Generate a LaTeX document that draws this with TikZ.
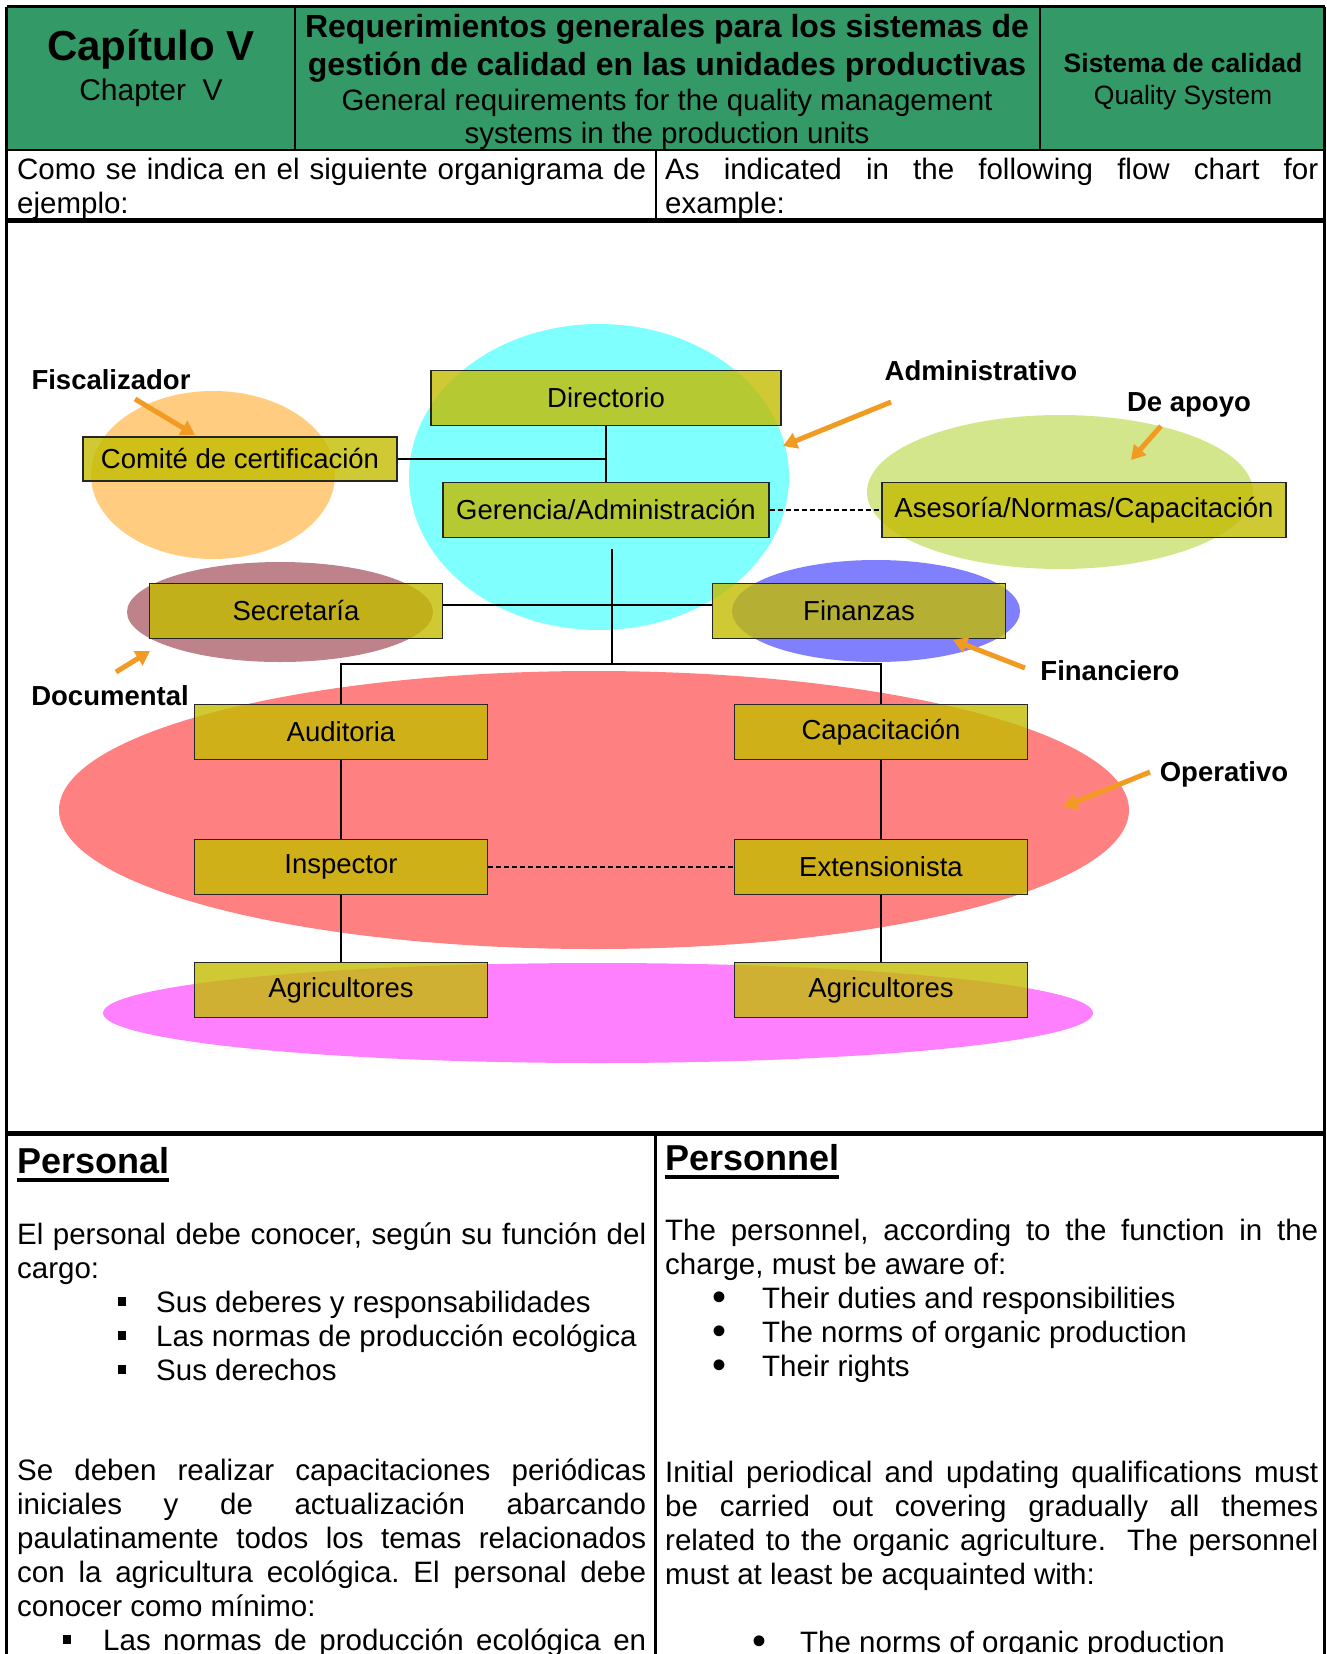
\documentclass[tikz,border=0pt]{standalone}
\usepackage{fontspec}
\setmainfont{Liberation Sans}
\usetikzlibrary{arrows.meta}
\frenchspacing

\definecolor{headgreen}{RGB}{51,153,102}
\definecolor{boxyel}{RGB}{195,188,0}
\definecolor{admcyan}{RGB}{128,255,255}
\definecolor{fiscorange}{RGB}{255,204,128}
\definecolor{apoyogreen}{RGB}{212,230,140}
\definecolor{docmauve}{RGB}{190,130,138}
\definecolor{finblue}{RGB}{128,128,255}
\definecolor{opsalmon}{RGB}{255,128,128}
\definecolor{agrpink}{RGB}{255,128,255}
\definecolor{arroworange}{RGB}{242,155,35}

\newcommand{\bodyfont}{\fontsize{29.5}{34}\selectfont}
\newcommand{\unitfont}{\fontsize{27.5}{30}\selectfont}
\newcommand{\tagfont}{\fontsize{27.5}{30}\selectfont\bfseries}
\newcommand{\jl}[1]{\makebox[\linewidth][s]{#1}}
\newcommand{\sqbullet}{\rule[6pt]{8pt}{9pt}}
\newcommand{\rdbullet}{\smash{\raisebox{-2pt}{\scalebox{1.35}{\textbullet}}}}

\tikzset{
  unit/.style={draw=black!85, line width=1.3pt, fill=boxyel, fill opacity=0.8, text opacity=1,
    minimum height=55pt, inner sep=0pt, font=\unitfont},
  tag/.style={font=\tagfont, inner sep=0pt},
  link/.style={line width=1.3pt},
  dashlink/.style={line width=1.2pt, dash pattern=on 5pt off 3pt},
  callout/.style={draw=arroworange, line width=5pt, -{Triangle[length=14pt,width=16pt]}},
  para/.style={anchor=base west, inner sep=0pt, font=\bodyfont},
  head/.style={anchor=base, inner sep=0pt}
}

\begin{document}
\begin{tikzpicture}[x=1pt,y=-1pt]
    \useasboundingbox (0,0) rectangle (1326,1654);

    % table frame
    \fill[headgreen] (7,7) rectangle (1324,150);
    \draw[line width=3pt] (6.5,7) -- (1324.5,7);
    \draw[line width=3pt] (6.5,7) -- (6.5,1654);
    \draw[line width=3pt] (1324.5,7) -- (1324.5,1654);
    \draw[line width=2pt] (7,150) -- (1324,150);
    \draw[line width=2pt] (295,7) -- (295,150);
    \draw[line width=2pt] (1040,7) -- (1040,150);
    \draw[line width=2pt] (656,150) -- (656,220);
    \draw[line width=5pt] (7,220) -- (1324,220);
    \draw[line width=5pt] (7,1133) -- (1324,1133);
    \draw[line width=3pt] (655,1133) -- (655,1654);

    % header
    \node[head, font=\fontsize{42}{46}\selectfont\bfseries] (cap) at (151,61) {Capítulo V};
    \node[head, font=\fontsize{30}{34}\selectfont] (chap) at (151,100) {Chapter\ \ V};
    \node[head, font=\fontsize{32}{37}\selectfont\bfseries] (req) at (667,38) {Requerimientos generales para los sistemas de};
    \node[head, font=\fontsize{32}{37}\selectfont\bfseries] (ges) at (667,75) {gestión de calidad en las unidades productivas};
    \node[head, font=\fontsize{29.5}{34}\selectfont] (gen) at (667,110) {General requirements for the quality management};
    \node[head, font=\fontsize{29.5}{34}\selectfont] (sys) at (667,143) {systems in the production units};
    \node[head, font=\fontsize{26.5}{30}\selectfont\bfseries] (sis) at (1183,73) {Sistema de calidad};
    \node[head, font=\fontsize{26.5}{30}\selectfont] (qua) at (1183,104) {Quality System};

    % intro row
    \node[para] (como) at (17,179) {\parbox[t]{629pt}{\jl{Como se indica en el siguiente organigrama de}\\
      ejemplo:}};
    \node[para] (asind) at (665,179) {\parbox[t]{653pt}{\jl{As indicated in the following flow chart for}\\
      example:}};

    % groups behind the chart
    \fill[fiscorange] (213,475) ellipse [x radius=122, y radius=84];
    \fill[admcyan] (599,477) ellipse [x radius=190, y radius=153];
    \fill[apoyogreen] (1060,492) ellipse [x radius=193, y radius=77];
    \fill[docmauve] (280,612) ellipse [x radius=153, y radius=50];
    \fill[finblue] (876,611) ellipse [x radius=144, y radius=51];
    \fill[opsalmon] (594,810) ellipse [x radius=535, y radius=139];
    \fill[agrpink] (598,1013) ellipse [x radius=495, y radius=50];

    % chart units
    \node[unit, minimum width=350pt] (dir) at (606,398) {Directorio};
    \node[unit, minimum width=314pt, minimum height=44pt] (com) at (240,459) {Comité de certificación};
    \node[unit, minimum width=326pt] (ger) at (606,510) {Gerencia/Administración};
    \node[unit, minimum width=404pt] (ase) at (1084,510) {Asesoría/Normas/Capacitación};
    \node[unit, minimum width=293pt] (sec) at (296,611) {Secretaría};
    \node[unit, minimum width=293pt] (fin) at (859,611) {Finanzas};
    \node[unit, minimum width=293pt] (aud) at (341,732) {Auditoria};
    \node[unit, minimum width=293pt] (capa) at (881,732) {Capacitación};
    \node[unit, minimum width=293pt] (ins) at (341,867) {Inspector};
    \node[unit, minimum width=293pt] (ext) at (881,867) {Extensionista};
    \node[unit, minimum width=293pt] (agrl) at (341,990) {Agricultores};
    \node[unit, minimum width=293pt] (agrr) at (881,990) {Agricultores};

    % links
    \coordinate (trunk) at (612,549);
    \coordinate (hub) at (612,664);
    \draw[link] (dir) -- (ger);
    \draw[link] (com.east) -- (com.east -| dir.south);
    \draw[dashlink] (ger) -- (ase);
    \draw[link] (trunk) -- (hub);
    \draw[link] ([yshift=6pt]sec.east) -- ([yshift=6pt]fin.west);
    \draw[link] (aud.north) |- (hub) -| (capa.north);
    \draw[link] (aud) -- (ins);
    \draw[link] (ins) -- (agrl);
    \draw[link] (capa) -- (ext);
    \draw[link] (ext) -- (agrr);
    \draw[dashlink] (ins) -- (ext);

    % group names
    \node[tag] (fis) at (111,380) {Fiscalizador};
    \node[tag] (adm) at (981,371) {Administrativo};
    \node[tag] (apo) at (1189,405) {De apoyo};
    \node[tag] (doc) at (110,696) {Documental};
    \node[tag] (fina) at (1110,671) {Financiero};
    \node[tag] (ope) at (1224,774) {Operativo};

    \draw[callout] (135,399) coordinate (fis-a) -- (195,435) coordinate (fis-b);
    \draw[callout] (891,402) coordinate (adm-a) -- (783,446) coordinate (adm-b);
    \draw[callout] (1161,426) coordinate (apo-a) -- (1131,460) coordinate (apo-b);
    \draw[callout] (116,672) coordinate (doc-a) -- (150,651) coordinate (doc-b);
    \draw[callout] (1025,668) coordinate (fina-a) -- (953,640) coordinate (fina-b);
    \draw[callout] (1150,772) coordinate (ope-a) -- (1063,807) coordinate (ope-b);

    % personnel row
    \node[para, font=\fontsize{36}{40}\selectfont\bfseries] (perso) at (17,1173) {Personal};
    \draw[line width=3.5pt] ([yshift=-7pt]perso.base west) -- ([yshift=-7pt]perso.base east);
    \node[para, font=\fontsize{36}{40}\selectfont\bfseries] (persn) at (665,1170) {Personnel};
    \draw[line width=3.5pt] ([yshift=-7pt]persn.base west) -- ([yshift=-7pt]persn.base east);

    \node[para] (deber) at (17,1244) {\parbox[t]{629pt}{\jl{El personal debe conocer, según su función del}\\
      cargo:\\
      \hspace*{101pt}\sqbullet\hspace{30pt}Sus deberes y responsabilidades\\
      \hspace*{101pt}\sqbullet\hspace{30pt}Las normas de producción ecológica\\
      \hspace*{101pt}\sqbullet\hspace{30pt}Sus derechos}};
    \node[para] (capac) at (17,1480) {\parbox[t]{629pt}{\jl{Se deben realizar capacitaciones periódicas}\\
      \jl{iniciales y de actualización abarcando}\\
      \jl{paulatinamente todos los temas relacionados}\\
      \jl{con la agricultura ecológica. El personal debe}\\
      conocer como mínimo:\\
      \hspace*{46pt}\sqbullet\hspace{32pt}\makebox[543pt][s]{Las normas de producción ecológica en}}};

    \node[para] (aware) at (665,1240) {\parbox[t]{653pt}{\jl{The personnel, according to the function in the}\\
      charge, must be aware of:\\
      \hspace*{47pt}\makebox[50pt][l]{\rdbullet}Their duties and responsibilities\\
      \hspace*{47pt}\makebox[50pt][l]{\rdbullet}The norms of organic production\\
      \hspace*{47pt}\makebox[50pt][l]{\rdbullet}Their rights}};
    \node[para] (quali) at (665,1482) {\parbox[t]{653pt}{\jl{Initial periodical and updating qualifications must}\\
      \jl{be carried out covering gradually all themes}\\
      \jl{related to the organic agriculture.\ \ The personnel}\\
      must at least be acquainted with:\\[34pt]
      \hspace*{87pt}\makebox[48pt][l]{\rdbullet}The norms of organic production}};
\end{tikzpicture}
\end{document}
